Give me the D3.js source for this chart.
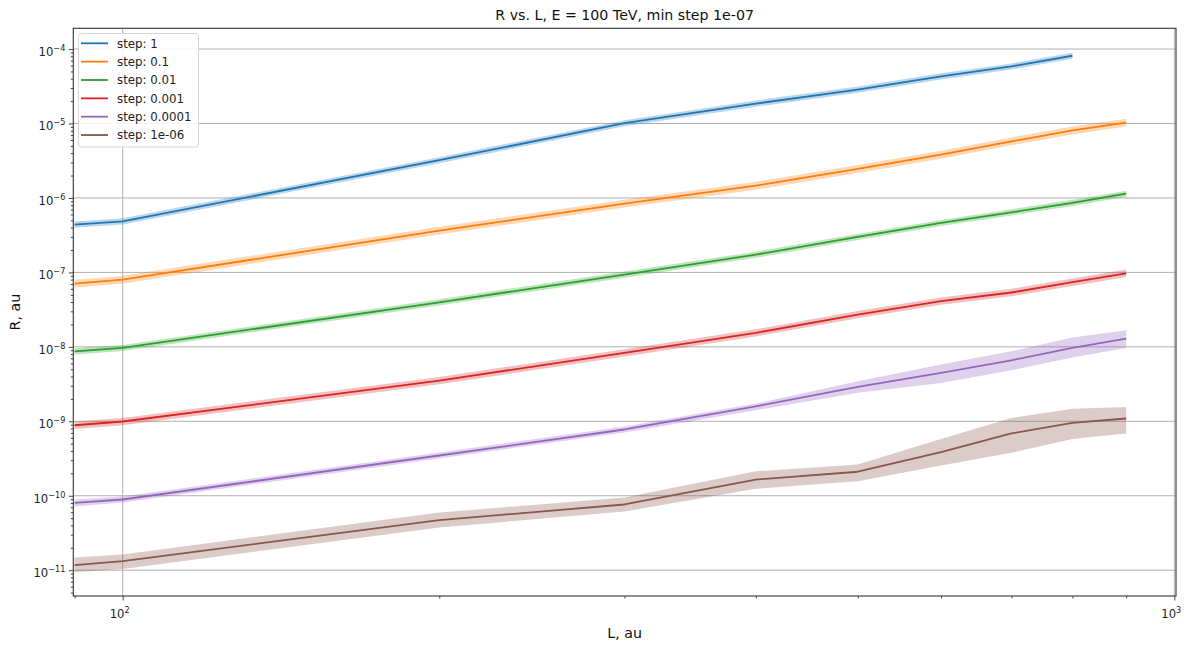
<!DOCTYPE html>
<html>
<head>
<meta charset="utf-8">
<script src="https://cdn.jsdelivr.net/npm/d3@7"></script>
<style>
  html, body { margin: 0; padding: 0; background: #fff; }
  svg { display: block; font-family: "DejaVu Sans", sans-serif; }
</style>
</head>
<body>
<svg id="chart" width="1198" height="649"></svg>
<script>
// ---------------- data ----------------
const title = "R vs. L, E = 100 TeV, min step 1e-07";
const xLabel = "L, au";
const yLabel = "R, au";
const L = [90, 100, 200, 300, 400, 500, 600, 700, 800, 900];
const stepLabels = ["step: 1", "step: 0.1", "step: 0.01", "step: 0.001", "step: 0.0001", "step: 1e-06"];
const colors = ["#1f77b4", "#ff7f0e", "#2ca02c", "#d62728", "#9467bd", "#8c564b"];

const step1    = [4.38e-7, 4.85e-7, 3.21e-6, 1.01e-5, 1.85e-5, 2.85e-5, 4.29e-5, 5.84e-5, 8.13e-5];
const step1Lo  = [3.98e-7, 4.41e-7, 2.92e-6, 9.2e-6, 1.68e-5, 2.59e-5, 3.9e-5, 5.3e-5, 7.4e-5];
const step1Hi  = [4.82e-7, 5.34e-7, 3.53e-6, 1.11e-5, 2.04e-5, 3.14e-5, 4.72e-5, 6.42e-5, 8.94e-5];

const step01   = [7.06e-8, 7.98e-8, 3.64e-7, 8.38e-7, 1.46e-6, 2.45e-6, 3.81e-6, 5.75e-6, 8.07e-6, 1.03e-5];
const step01Lo = [6.25e-8, 7.06e-8, 3.22e-7, 7.42e-7, 1.29e-6, 2.17e-6, 3.37e-6, 5.09e-6, 7.14e-6, 9.12e-6];
const step01Hi = [7.98e-8, 9.02e-8, 4.11e-7, 9.47e-7, 1.65e-6, 2.77e-6, 4.31e-6, 6.5e-6, 9.12e-6, 1.16e-5];

const step001   = [8.7e-9, 9.68e-9, 3.96e-8, 9.33e-8, 1.73e-7, 2.99e-7, 4.61e-7, 6.4e-7, 8.57e-7, 1.14e-6];
const step001Lo = [7.9e-9, 8.8e-9, 3.6e-8, 8.48e-8, 1.57e-7, 2.72e-7, 4.19e-7, 5.82e-7, 7.79e-7, 1.04e-6];
const step001Hi = [9.57e-9, 1.06e-8, 4.36e-8, 1.03e-7, 1.9e-7, 3.29e-7, 5.07e-7, 7.04e-7, 9.43e-7, 1.25e-6];

const step0001   = [8.85e-10, 9.93e-10, 3.52e-9, 8.3e-9, 1.54e-8, 2.71e-8, 4.11e-8, 5.37e-8, 7.38e-8, 9.7e-8];
const step0001Lo = [7.9e-10, 8.87e-10, 3.14e-9, 7.41e-9, 1.38e-8, 2.42e-8, 3.67e-8, 4.79e-8, 6.59e-8, 8.66e-8];
const step0001Hi = [9.91e-10, 1.11e-9, 3.94e-9, 9.3e-9, 1.72e-8, 3.04e-8, 4.6e-8, 6.01e-8, 8.27e-8, 1.09e-7];

const step00001   = [8.04e-11, 8.9e-11, 3.47e-10, 7.76e-10, 1.59e-9, 2.9e-9, 4.47e-9, 6.6e-9, 9.68e-9, 1.29e-8];
const step00001Lo = [7.16e-11, 8.11e-11, 3.16e-10, 7.07e-10, 1.41e-9, 2.41e-9, 3.28e-9, 4.84e-9, 7.18e-9, 9.68e-9];
const step00001Hi = [8.89e-11, 9.77e-11, 3.81e-10, 8.51e-10, 1.73e-9, 3.45e-9, 5.78e-9, 8.71e-9, 1.33e-8, 1.67e-8];

const step1e6   = [1.17e-11, 1.32e-11, 4.7e-11, 7.63e-11, 1.65e-10, 2.1e-10, 3.84e-10, 6.86e-10, 9.53e-10, 1.09e-9];
const step1e6Lo = [9.4e-12, 1.04e-11, 3.74e-11, 6.14e-11, 1.24e-10, 1.57e-10, 2.55e-10, 3.77e-10, 5.8e-10, 6.86e-10];
const step1e6Hi = [1.48e-11, 1.63e-11, 5.94e-11, 9.46e-11, 2.13e-10, 2.63e-10, 5.8e-10, 1.11e-9, 1.47e-9, 1.56e-9];

const xMajorTicks = [100, 1000];
const xTickExp = ["2", "3"];
const xMinorTicks = [90, 200, 300, 400, 500, 600, 700, 800, 900];
const yMajorExp = [-4, -5, -6, -7, -8, -9, -10, -11];

// ---------------- build ----------------
const series = [
  {v: step1, lo: step1Lo, hi: step1Hi},
  {v: step01, lo: step01Lo, hi: step01Hi},
  {v: step001, lo: step001Lo, hi: step001Hi},
  {v: step0001, lo: step0001Lo, hi: step0001Hi},
  {v: step00001, lo: step00001Lo, hi: step00001Hi},
  {v: step1e6, lo: step1e6Lo, hi: step1e6Hi}
].map((s, i) => ({
  label: stepLabels[i], color: colors[i],
  pts: s.v.map((v, j) => ({x: L[j], y: v, lo: s.lo[j], hi: s.hi[j]}))
}));

const m = {left: 73.3, right: 1176, top: 28.3, bottom: 596};
const svg = d3.select("#chart");

const x = d3.scaleLog().domain([89.75, 1003.7]).range([m.left, m.right]);
const y = d3.scaleLog().domain([4.5e-12, 1.9e-4]).range([m.bottom, m.top]);

const clipId = "plotclip";
svg.append("defs").append("clipPath").attr("id", clipId)
  .append("rect").attr("x", m.left).attr("y", m.top)
  .attr("width", m.right - m.left).attr("height", m.bottom - m.top);

// grid
const grid = svg.append("g").attr("stroke", "#b0b0b0").attr("stroke-width", 1);
yMajorExp.forEach(e => {
  const yy = y(Math.pow(10, e));
  grid.append("line").attr("x1", m.left).attr("x2", m.right).attr("y1", yy).attr("y2", yy);
});
xMajorTicks.forEach(t => {
  const xx = x(t);
  grid.append("line").attr("x1", xx).attr("x2", xx).attr("y1", m.top).attr("y2", m.bottom);
});

// bands and lines
const plot = svg.append("g").attr("clip-path", `url(#${clipId})`);
const area = d3.area().x(d => x(d.x)).y0(d => y(d.lo)).y1(d => y(d.hi));
const line = d3.line().x(d => x(d.x)).y(d => y(d.y));
series.forEach(s => {
  plot.append("path").datum(s.pts).attr("d", area)
    .attr("fill", s.color).attr("fill-opacity", 0.3).attr("stroke", "none");
});
series.forEach(s => {
  plot.append("path").datum(s.pts).attr("d", line)
    .attr("fill", "none").attr("stroke", s.color).attr("stroke-width", 1.8)
    .attr("stroke-linejoin", "round");
});

// spines
svg.append("rect").attr("x", m.left).attr("y", m.top)
  .attr("width", m.right - m.left).attr("height", m.bottom - m.top)
  .attr("fill", "none").attr("stroke", "#333").attr("stroke-width", 1.1);

// x axis ticks
const xAxisG = svg.append("g").attr("transform", `translate(0,${m.bottom})`)
  .call(d3.axisBottom(x).tickValues(xMinorTicks).tickSize(2.5).tickFormat(""));
const xMajG = svg.append("g").attr("transform", `translate(0,${m.bottom})`)
  .call(d3.axisBottom(x).tickValues(xMajorTicks).tickSize(4.5).tickFormat(""));
[xAxisG, xMajG].forEach(g => { g.select(".domain").remove(); g.selectAll("line").attr("stroke", "#333").attr("stroke-width", 0.9); });

xMajorTicks.forEach((t, i) => {
  const tx = svg.append("text").attr("x", x(t) - 3).attr("y", m.bottom + 22)
    .attr("text-anchor", "middle").attr("font-size", 11.6).attr("fill", "#222");
  tx.append("tspan").text("10");
  tx.append("tspan").attr("dy", -5).attr("font-size", 8.1).text(xTickExp[i]);
});

// y axis ticks
const yMinor = [];
for (let e = -12; e <= -4; e++) for (let k = 2; k <= 9; k++) {
  const v = k * Math.pow(10, e);
  if (v >= 4.5e-12 && v <= 1.9e-4) yMinor.push(v);
}
const yMinG = svg.append("g").attr("transform", `translate(${m.left},0)`)
  .call(d3.axisLeft(y).tickValues(yMinor).tickSize(2.5).tickFormat(""));
const yMajG = svg.append("g").attr("transform", `translate(${m.left},0)`)
  .call(d3.axisLeft(y).tickValues(yMajorExp.map(e => Math.pow(10, e))).tickSize(4.5).tickFormat(""));
[yMinG, yMajG].forEach(g => { g.select(".domain").remove(); g.selectAll("line").attr("stroke", "#333").attr("stroke-width", 0.9); });

yMajorExp.forEach(e => {
  const yy = y(Math.pow(10, e));
  const tx = svg.append("text").attr("x", m.left - 8).attr("y", yy + 7)
    .attr("text-anchor", "end").attr("font-size", 11.6).attr("fill", "#222");
  tx.append("tspan").text("10");
  tx.append("tspan").attr("dy", -5).attr("font-size", 8.1).text("\u2212" + Math.abs(e));
});

// titles
svg.append("text").attr("x", (m.left + m.right) / 2).attr("y", 20)
  .attr("text-anchor", "middle").attr("font-size", 14.2).attr("fill", "#111").text(title);
svg.append("text").attr("x", (m.left + m.right) / 2).attr("y", 638)
  .attr("text-anchor", "middle").attr("font-size", 14.2).attr("fill", "#111").text(xLabel);
svg.append("text").attr("transform", `translate(20,${(m.top + m.bottom) / 2}) rotate(-90)`)
  .attr("text-anchor", "middle").attr("font-size", 14.2).attr("fill", "#111").text(yLabel);

// legend
const lg = svg.append("g");
lg.append("rect").attr("x", 78.5).attr("y", 33.5).attr("width", 120).attr("height", 113.5)
  .attr("rx", 3).attr("fill", "#fff").attr("fill-opacity", 0.85)
  .attr("stroke", "#d5d5d5").attr("stroke-width", 1);
series.forEach((s, i) => {
  const yy = 43.3 + i * 18.35;
  lg.append("line").attr("x1", 81).attr("x2", 108).attr("y1", yy).attr("y2", yy)
    .attr("stroke", s.color).attr("stroke-width", 1.8);
  lg.append("text").attr("x", 117).attr("y", yy + 4.2).attr("font-size", 11.8)
    .attr("fill", "#222").text(s.label);
});
</script>
</body>
</html>
